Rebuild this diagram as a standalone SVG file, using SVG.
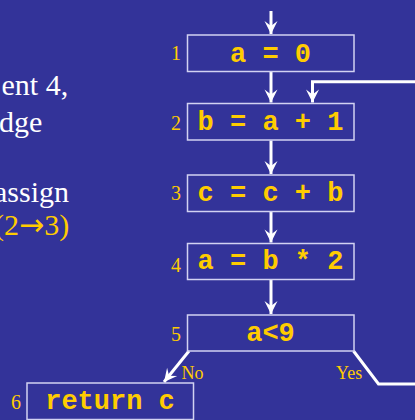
<svg xmlns="http://www.w3.org/2000/svg" width="415" height="420" viewBox="0 0 415 420">
  <style>
    .bg { fill: #333399; }
    .box { fill: none; stroke: #d2d2f2; stroke-width: 1.5; }
    .code { font-family: "Liberation Mono", "Courier New", monospace; font-weight: bold; font-size: 27px; fill: #ffcc00; text-anchor: middle; }
    .num { font-family: "Liberation Serif", "Times New Roman", serif; font-size: 20px; fill: #ffcc00; text-anchor: end; }
    .lbl { font-family: "Liberation Serif", "Times New Roman", serif; font-size: 18px; fill: #ffcc00; }
    .prose { font-family: "Liberation Serif", "Times New Roman", serif; font-size: 30px; fill: #ffffff; }
    .hl { fill: #ffcc00; }
    .sym { font-family: "DejaVu Sans", sans-serif; font-size: 30px; }
    .edge { fill: none; stroke: #ffffff; stroke-width: 3; }
  </style>
  <defs>
    <marker id="arrow" markerUnits="userSpaceOnUse" markerWidth="16" markerHeight="16" viewBox="-14 -8 16 16" refX="0" refY="0" orient="auto">
      <path d="M0,0 L-13,-6.5 L-8,0 L-13,6.5 Z" fill="#ffffff"/>
    </marker>
  </defs>

  <rect class="bg" x="0" y="0" width="415" height="420"/>

  <!-- explanatory text, clipped at the left edge -->
  <g id="notes">
    <text class="prose" x="1.5" y="95">ent 4,</text>
    <text class="prose" x="-1" y="131.7">dge</text>
    <text class="prose" x="-6" y="201.7">assign</text>
    <text class="prose hl" x="-6" y="235">(2<tspan class="sym">→</tspan>3)</text>
  </g>

  <!-- connectors -->
  <g id="edges">
    <line class="edge" x1="271" y1="11" x2="271" y2="34" marker-end="url(#arrow)"/>
    <line class="edge" x1="271" y1="72" x2="271" y2="102.5" marker-end="url(#arrow)"/>
    <polyline class="edge" points="415,81.7 312.5,81.7 312.5,102.5" marker-end="url(#arrow)"/>
    <line class="edge" x1="271" y1="140.5" x2="271" y2="174" marker-end="url(#arrow)"/>
    <line class="edge" x1="271" y1="212" x2="271" y2="242.5" marker-end="url(#arrow)"/>
    <line class="edge" x1="271" y1="280" x2="271" y2="314" marker-end="url(#arrow)"/>
    <line class="edge" x1="189" y1="351" x2="164" y2="382" marker-end="url(#arrow)"/>
    <polyline class="edge" points="353.5,351 378.5,384 415,384"/>
    <text class="lbl" x="181.5" y="379">No</text>
    <text class="lbl" x="336" y="379">Yes</text>
  </g>

  <!-- nodes -->
  <g id="n1">
    <rect class="box" x="187.5" y="35" width="166.5" height="36.5"/>
    <text class="num" x="181" y="60">1</text>
    <text class="code" x="270.5" y="61.5">a = 0</text>
  </g>
  <g id="n2">
    <rect class="box" x="187.5" y="103.5" width="166.5" height="36.5"/>
    <text class="num" x="181" y="130">2</text>
    <text class="code" x="270.5" y="129.5">b = a + 1</text>
  </g>
  <g id="n3">
    <rect class="box" x="187.5" y="175" width="166.5" height="36.5"/>
    <text class="num" x="181" y="200">3</text>
    <text class="code" x="270.5" y="200.5">c = c + b</text>
  </g>
  <g id="n4">
    <rect class="box" x="187.5" y="243.5" width="166.5" height="36"/>
    <text class="num" x="181" y="271.5">4</text>
    <text class="code" x="270.5" y="268.5">a = b * 2</text>
  </g>
  <g id="n5">
    <rect class="box" x="187.5" y="315" width="166.5" height="36"/>
    <text class="num" x="181" y="341">5</text>
    <text class="code" x="270.5" y="340.5">a&lt;9</text>
  </g>
  <g id="n6">
    <rect class="box" x="27" y="383" width="166.5" height="36.5"/>
    <text class="num" x="21" y="409">6</text>
    <text class="code" x="110" y="408.5">return c</text>
  </g>
</svg>
